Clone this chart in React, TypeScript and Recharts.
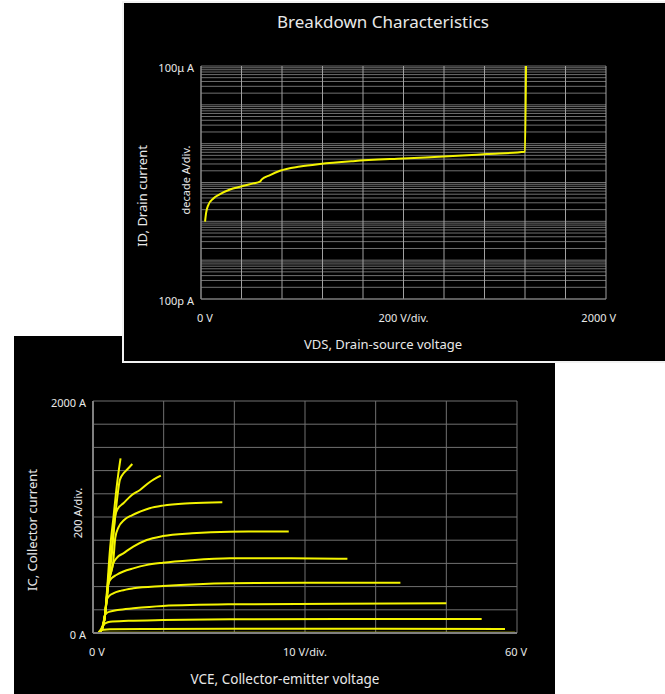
import React from 'react';
import { LineChart, Line, XAxis, YAxis, CartesianGrid } from 'recharts';

const FONT = '"Noto Sans", "DejaVu Sans", sans-serif';
const TXT = '#e8e8e8';
const YEL = '#f4f400';

// ---------- Breakdown characteristics (top panel) ----------
const vdsVolts = [20, 25, 36, 61, 94, 143, 193, 258, 291, 300, 341, 390, 489, 588, 751, 998, 1244, 1411, 1600, 1605];
const idAmps = [9.8e-9, 1.62e-8, 2.63e-8, 3.89e-8, 5.0e-8, 6.6e-8, 7.8e-8, 9.5e-8, 1.05e-7, 1.2e-7, 1.55e-7, 2.0e-7, 2.57e-7, 3.0e-7, 3.55e-7, 4.17e-7, 4.8e-7, 5.4e-7, 6.2e-7, 1e-4];
const vdsTicks = [0, 200, 400, 600, 800, 1000, 1200, 1400, 1600, 1800, 2000];
const vdsTickLabels: Record<number, string> = { 0: '0 V', 1000: '200 V/div.', 2000: '2000 V' };
const idDecades = [1e-10, 1e-9, 1e-8, 1e-7, 1e-6, 1e-5];
const idMantissas = [1, 2, 3, 4, 5, 6, 7, 8, 9];
const idTopTick = 1e-4;

// ---------- Output characteristics (bottom panel) ----------
const icCurve0 = [[0, 0], [0.7, 0], [1.5, 2], [10, 3], [30, 3], [59.7, 2]];
const icCurve1 = [[0, 0], [0.7, 0], [1.0, 20], [1.5, 28], [2.4, 32], [8, 35], [19.4, 37], [40, 36], [58.3, 34]];
const icCurve2 = [[0, 0], [0.7, 0], [1.2, 40], [1.46, 69], [1.8, 85], [2.4, 97], [5, 105], [9.9, 112], [19.4, 118], [35, 120], [55, 121]];
const icCurve3 = [[0, 0], [0.7, 0], [1.2, 26], [1.5, 100], [1.7, 155], [2.0, 175], [2.4, 184], [3.5, 198], [5.7, 213], [9.9, 233], [19.4, 247], [35, 253], [50, 256]];
const icCurve4 = [[0, 0], [0.7, 0], [1.2, 26], [1.7, 155], [1.93, 284], [2.3, 320], [2.87, 342], [4, 365], [5.7, 385], [9.9, 405], [19.4, 429], [30, 433], [43.5, 434]];
const icCurve5 = [[0, 0], [0.7, 0], [1.2, 26], [1.7, 155], [1.93, 284], [2.17, 428], [2.6, 470], [3.3, 500], [4.3, 530], [5.7, 557], [7.5, 585], [9.9, 606], [14, 628], [19.4, 644], [28, 645], [36, 640]];
const icCurve6 = [[0, 0], [0.7, 0], [1.2, 26], [1.7, 155], [2.17, 428], [2.5, 510], [2.87, 600], [3.4, 650], [4.3, 687], [5.7, 745], [7.6, 802], [9.9, 836], [14, 860], [19.4, 873], [27.7, 875]];
const icCurve7 = [[0, 0], [0.7, 0], [1.2, 26], [1.7, 155], [2.17, 428], [2.87, 620], [3.15, 820], [3.6, 910], [4.4, 974], [5.5, 1015], [6.65, 1046], [8, 1075], [9.9, 1098], [13.7, 1118], [18.3, 1127]];
const icCurve8 = [[0, 0], [0.7, 0], [1.2, 26], [1.7, 155], [2.17, 428], [2.7, 700], [3.1, 1000], [3.5, 1070], [4.3, 1118], [5.5, 1190], [6.65, 1233], [8, 1300], [9.6, 1356]];
const icCurve9 = [[0, 0], [0.7, 0], [1.2, 26], [1.7, 155], [2.1, 428], [2.6, 700], [3.0, 920], [3.4, 1150], [3.8, 1319], [4.3, 1375], [4.77, 1405], [5.56, 1457]];
const icCurve10 = [[0, 0], [0.7, 0], [1.2, 26], [1.7, 155], [2.0, 380], [2.4, 716], [2.9, 1000], [3.3, 1233], [3.6, 1380], [3.9, 1506]];
const icCurves = [icCurve0, icCurve1, icCurve2, icCurve3, icCurve4, icCurve5, icCurve6, icCurve7, icCurve8, icCurve9, icCurve10];
const vceTicks = [0, 10, 20, 30, 40, 50, 60];
const vceTickLabels: Record<number, string> = { 0: '0 V', 30: '10 V/div.', 60: '60 V' };
const icTicks = [0, 200, 400, 600, 800, 1000, 1200, 1400, 1600, 1800, 2000];
const icTickLabels: Record<number, string> = { 0: '0 A', 2000: '2000 A' };

const idTicks: number[] = [];
idDecades.forEach((d) => idMantissas.forEach((m) => idTicks.push(m * d)));
idTicks.push(idTopTick);

const breakdownData = vdsVolts.map((v, k) => ({ v, id: idAmps[k] }));
const outputSeries = icCurves.map((c) => c.map(([v, i]) => ({ v, i })));

function idLabel(v: number): string {
  if (Math.abs(Math.log10(v) + 4) < 0.01) return '100\u03bc A';
  if (Math.abs(Math.log10(v) + 10) < 0.01) return '100p A';
  return '';
}

const makeXTick = (labels: Record<number, string>, first: number, last: number) => (props: any) => {
  const { x, y, payload } = props;
  const val = payload.value;
  const txt = labels[val];
  if (!txt) return <g />;
  let anchor: any = 'middle';
  let xx = x;
  if (val === first) { anchor = 'start'; xx = x - 4; }
  if (val === last) { anchor = 'end'; xx = x + 10; }
  return (
    <text x={xx} y={y + 18} textAnchor={anchor} dominantBaseline="central" fill={TXT} fontSize={11} fontFamily={FONT}>
      {txt}
    </text>
  );
};

const makeYTick = (fmt: (v: number) => string) => (props: any) => {
  const { x, y, payload } = props;
  const txt = fmt(payload.value);
  if (!txt) return <g />;
  return (
    <text x={x - 7} y={y + 1} textAnchor="end" dominantBaseline="central" fill={TXT} fontSize={11} fontFamily={FONT}>
      {txt}
    </text>
  );
};

const rot = (x: number, y: number) => `translate(${x},${y}) rotate(-90)`;

export default function App() {
  return (
    <div style={{ position: 'absolute', left: 0, top: 0, width: 665, height: 694, overflow: 'hidden', background: '#fff', fontFamily: FONT }}>
      {/* Bottom panel */}
      <div style={{ position: 'absolute', left: 14, top: 336, width: 541, height: 358, background: '#000' }}>
        <LineChart width={541} height={358} margin={{ top: 65, right: 38, bottom: 31, left: 19 }}>
          <CartesianGrid stroke="#707070" strokeWidth={1} />
          <XAxis type="number" dataKey="v" domain={[0, 60]} ticks={vceTicks} interval={0} allowDataOverflow
            tickSize={0} tickMargin={0} tickLine={false} axisLine={{ stroke: '#808080', strokeWidth: 2 }} height={30}
            tick={makeXTick(vceTickLabels, 0, 60)} />
          <YAxis type="number" dataKey="i" domain={[0, 2000]} ticks={icTicks} interval={0} allowDataOverflow
            tickSize={0} tickMargin={0} tickLine={false} axisLine={{ stroke: '#808080', strokeWidth: 2 }} width={60}
            tick={makeYTick((v) => icTickLabels[v] || '')} />
          {outputSeries.map((s, k) => (
            <Line key={k} data={s} dataKey="i" type="monotone" stroke={YEL} strokeWidth={2} dot={false} isAnimationActive={false} />
          ))}
        </LineChart>
        <svg width={541} height={358} style={{ position: 'absolute', left: 0, top: 0, pointerEvents: 'none' }}>
          <text x={271} y={343} textAnchor="middle" dominantBaseline="central" fill={TXT} fontSize={13.5} fontFamily={FONT}>VCE, Collector-emitter voltage</text>
          <text transform={rot(18, 194)} textAnchor="middle" dominantBaseline="central" fill={TXT} fontSize={13} fontFamily={FONT}>IC, Collector current</text>
          <text transform={rot(63, 177)} textAnchor="middle" dominantBaseline="central" fill={TXT} fontSize={11} fontFamily={FONT}>200 A/div.</text>
        </svg>
      </div>

      {/* Top panel */}
      <div style={{ position: 'absolute', left: 122, top: 1, width: 545, height: 358, border: '2px solid #f2f2f2', background: '#000', zIndex: 2 }}>
        <LineChart width={541} height={358} data={breakdownData} margin={{ top: 63, right: 59, bottom: 32, left: 17 }}>
          <CartesianGrid vertical={false} stroke="#707070" strokeWidth={1} />
          <CartesianGrid horizontal={false} stroke="#a0a0a0" strokeWidth={1} />
          <XAxis type="number" dataKey="v" domain={[0, 2000]} ticks={vdsTicks} interval={0} allowDataOverflow
            tickSize={0} tickMargin={0} tickLine={false} axisLine={{ stroke: '#808080', strokeWidth: 1 }} height={30}
            tick={makeXTick(vdsTickLabels, 0, 2000)} />
          <YAxis type="number" dataKey="id" scale="log" domain={[1e-10, 1e-4]} ticks={idTicks} interval={0} allowDataOverflow
            tickSize={0} tickMargin={0} tickLine={false} axisLine={{ stroke: '#808080', strokeWidth: 1 }} width={60}
            tick={makeYTick(idLabel)} />
          <Line dataKey="id" type="monotone" stroke={YEL} strokeWidth={2} dot={false} isAnimationActive={false} />
        </LineChart>
        <svg width={541} height={358} style={{ position: 'absolute', left: 0, top: 0, pointerEvents: 'none' }}>
          <text x={259} y={18} textAnchor="middle" dominantBaseline="central" fill={TXT} fontSize={17} fontFamily={FONT}>Breakdown Characteristics</text>
          <text x={259} y={341} textAnchor="middle" dominantBaseline="central" fill={TXT} fontSize={13} fontFamily={FONT}>VDS, Drain-source voltage</text>
          <text transform={rot(18, 193)} textAnchor="middle" dominantBaseline="central" fill={TXT} fontSize={13} fontFamily={FONT}>ID, Drain current</text>
          <text transform={rot(61, 177)} textAnchor="middle" dominantBaseline="central" fill={TXT} fontSize={11} fontFamily={FONT}>decade A/div.</text>
        </svg>
      </div>
    </div>
  );
}
